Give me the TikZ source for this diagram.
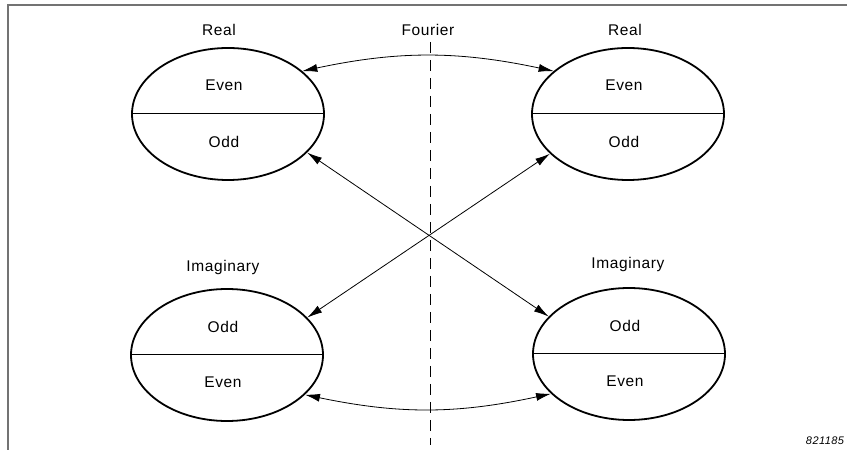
\documentclass[tikz,border=0pt]{standalone}
\usepackage{fontspec}
\setmainfont{Liberation Sans}[LetterSpace=4]
\usetikzlibrary{arrows.meta,shapes.geometric}
\begin{document}
\begin{tikzpicture}[x=1pt,y=1pt,
  part/.style={ellipse,draw,line width=1.8pt,inner sep=0pt,
    minimum width=192pt,minimum height=132pt},
  divider/.style={line width=1pt},
  lbl/.style={font=\fontsize{15.5}{18}\selectfont},
  link/.style={line width=0.8pt,
    {Latex[length=15pt,width=8pt]}-{Latex[length=15pt,width=8pt]}},
  axis/.style={line width=0.8pt,dash pattern=on 11pt off 7pt},
  frame/.style={draw=black!55,line width=1.2pt},
]
\useasboundingbox (0,0) rectangle (847,450);

% partial frame along top and left
\coordinate (fa) at (8,0);
\coordinate (fb) at (8,445);
\coordinate (fc) at (847,445);
\draw[frame] (fa) -- (fb) -- (fc);

% the four decompositions
\node[part] (tl) at (228,336) {};
\node[part] (tr) at (628,336) {};
\node[part] (bl) at (227,95) {};
\node[part] (br) at (629,96) {};

\foreach \e in {tl,tr,bl,br}
  \draw[divider] (\e.west) -- (\e.east);

\node[lbl] (tlu) at ([xshift=-4pt,yshift=29pt]tl.center) {Even};
\node[lbl] (tld) at ([xshift=-4pt,yshift=-28pt]tl.center) {Odd};
\node[lbl] (tru) at ([xshift=-4pt,yshift=29pt]tr.center) {Even};
\node[lbl] (trd) at ([xshift=-4pt,yshift=-28pt]tr.center) {Odd};
\node[lbl] (blu) at ([xshift=-4pt,yshift=28pt]bl.center) {Odd};
\node[lbl] (bld) at ([xshift=-4pt,yshift=-27pt]bl.center) {Even};
\node[lbl] (bru) at ([xshift=-4pt,yshift=28pt]br.center) {Odd};
\node[lbl] (brd) at ([xshift=-4pt,yshift=-27pt]br.center) {Even};

% titles
\node[lbl] (tlt) at (219,420) {Real};
\node[lbl] (trt) at (625,420) {Real};
\node[lbl] (blt) at (223,183) {Imaginary};
\node[lbl] (brt) at (628,186) {Imaginary};
\node[lbl] (four) at (428,420) {Fourier};

% Fourier symmetry axis
\coordinate (ax1) at (430,408);
\coordinate (ax2) at (430,5);
\draw[axis] (ax1) -- (ax2);

% transform pairs
\draw[link] (tl.30) to[bend left=12] (tr.150);
\draw[link] (bl.-27) to[bend right=12] (br.207);
\draw[link] (tl.-26) -- (br.155);
\draw[link] (tr.207) -- (bl.25);

\node[font=\fontsize{11}{13}\selectfont\itshape] (fig) at (825,9) {821185};
\end{tikzpicture}
\end{document}
